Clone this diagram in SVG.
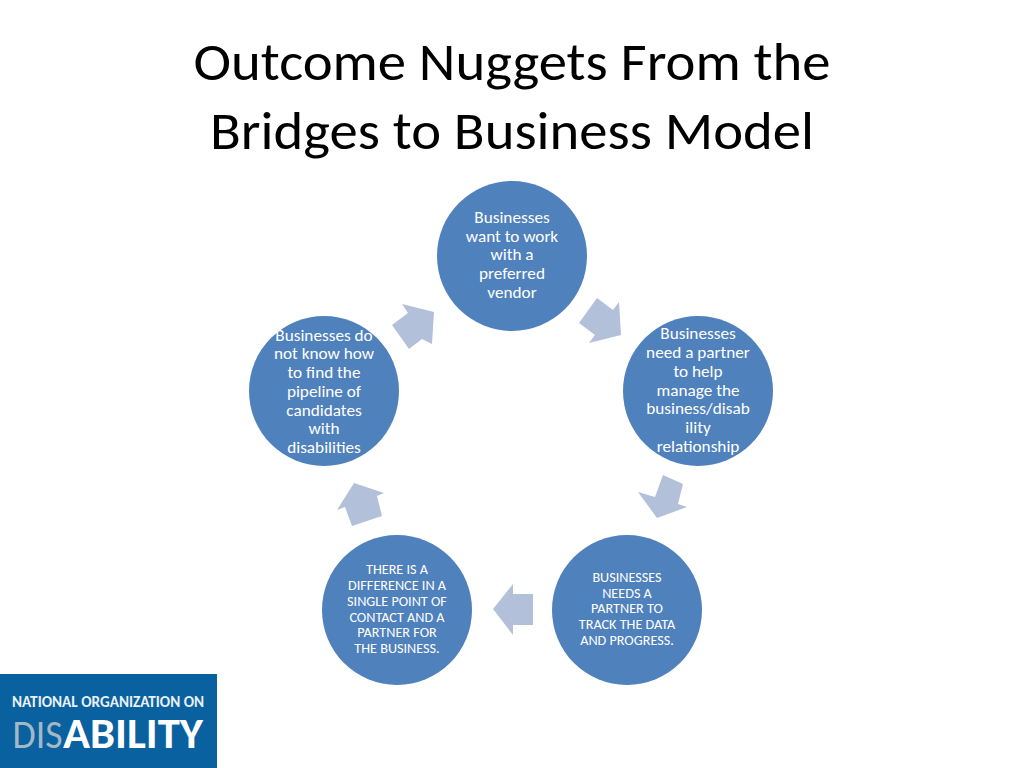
<svg xmlns="http://www.w3.org/2000/svg" width="1024" height="768" viewBox="0 0 1024 768">
<style>
text{font-family:"Carlito","Lato","Open Sans",sans-serif;text-anchor:middle}
.t{font-size:53px;fill:#000}
.n{font-size:17.2px;fill:#fff}
.s{font-size:14.2px;fill:#fff}
.c{fill:#4f81bd}
.a{fill:#b3c0da}
</style>
<rect width="1024" height="768" fill="#fff"/>
<g id="title">
<text class="t" x="512" y="80" textLength="637" lengthAdjust="spacingAndGlyphs">Outcome Nuggets From the</text>
<text class="t" x="512" y="149" textLength="604" lengthAdjust="spacingAndGlyphs">Bridges to Business Model</text>
</g>
<g id="connectors">
<polygon class="a" points="579,323 597,298 613,310 619,302 621,335 589,343 595,335"/>
<polygon class="a" points="663,475 683,484 678,504 687,507 657,518 638,492 655,497"/>
<polygon class="a" points="533,594 513,594 513,584 493,609 513,635 513,625 533,625"/>
<polygon class="a" points="382,516 352,526 345,507 337,510 354,483 384,493 377,496"/>
<polygon class="a" points="392,325 408,313 402,304 434,312 432,344 422,339 409,349"/>
</g>
<g id="node1">
<circle class="c" cx="512" cy="256" r="75"/>
<text class="n" x="512" y="223">Businesses</text>
<text class="n" x="512" y="242">want to work</text>
<text class="n" x="512" y="260">with a</text>
<text class="n" x="512" y="279">preferred</text>
<text class="n" x="512" y="298">vendor</text>
</g>
<g id="node2">
<circle class="c" cx="698" cy="391" r="75"/>
<text class="n" x="698" y="339">Businesses</text>
<text class="n" x="698" y="358">need a partner</text>
<text class="n" x="698" y="377">to help</text>
<text class="n" x="698" y="396">manage the</text>
<text class="n" x="698" y="414">business/disab</text>
<text class="n" x="698" y="433">ility</text>
<text class="n" x="698" y="452">relationship</text>
</g>
<g id="node3">
<circle class="c" cx="627" cy="610" r="75"/>
<text class="s" x="627" y="582">BUSINESSES</text>
<text class="s" x="627" y="598">NEEDS A</text>
<text class="s" x="627" y="613">PARTNER TO</text>
<text class="s" x="627" y="629">TRACK THE DATA</text>
<text class="s" x="627" y="645">AND PROGRESS.</text>
</g>
<g id="node4">
<circle class="c" cx="397" cy="610" r="75"/>
<text class="s" x="397" y="574">THERE IS A</text>
<text class="s" x="397" y="590">DIFFERENCE IN A</text>
<text class="s" x="397" y="606">SINGLE POINT OF</text>
<text class="s" x="397" y="622">CONTACT AND A</text>
<text class="s" x="397" y="637">PARTNER FOR</text>
<text class="s" x="397" y="653">THE BUSINESS.</text>
</g>
<g id="node5">
<circle class="c" cx="324" cy="391" r="75"/>
<text class="n" x="324" y="341">Businesses do</text>
<text class="n" x="324" y="359">not know how</text>
<text class="n" x="324" y="378">to find the</text>
<text class="n" x="324" y="397">pipeline of</text>
<text class="n" x="324" y="416">candidates</text>
<text class="n" x="324" y="434">with</text>
<text class="n" x="324" y="453">disabilities</text>
</g>
<g id="logo">
<rect x="0" y="674" width="217" height="94" fill="#09619f"/>
<text x="108" y="707" font-size="15" font-weight="700" fill="#eaf1f6" textLength="192" lengthAdjust="spacingAndGlyphs">NATIONAL ORGANIZATION ON</text>
<text x="37.5" y="748" font-size="42" font-weight="300" fill="#a3b8c6" textLength="50" lengthAdjust="spacingAndGlyphs">DIS</text>
<text x="133" y="748" font-size="42" font-weight="900" fill="#fff" textLength="140" lengthAdjust="spacingAndGlyphs">ABILITY</text>
</g>
</svg>
